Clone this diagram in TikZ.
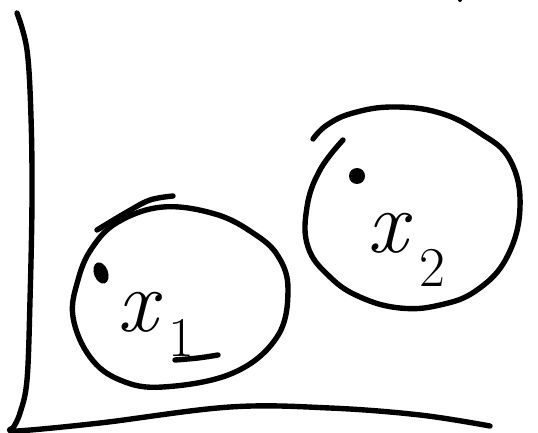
\documentclass[tikz,border=0pt]{standalone}
\usepackage{fontspec}
\usepackage{tikz}
\usetikzlibrary{positioning}

\begin{document}
\begin{tikzpicture}[
    x=0.03cm, y=-0.03cm,
    pen/.style={
        draw=black,
        line width=4.6pt,
        line cap=round,
        line join=round
    },
    blob/.style={fill=black},
    var/.style={inner sep=0pt, font=\fontsize{76}{76}\selectfont\itshape},
    idx/.style={inner sep=0pt, font=\fontsize{48}{48}\selectfont}
]
\useasboundingbox (0,0) rectangle (538,433);

% axes
\draw[pen] plot[smooth, tension=0.6] coordinates
    {(17,13) (27,50) (31,117) (32,200) (30,300) (27,380) (20,413) (13,428)};
\draw[pen] plot[smooth, tension=0.6] coordinates
    {(13,428) (17,431) (100,423) (230,407) (330,408) (420,415) (490,426)};

% first cluster
\draw[pen] plot[smooth cycle, tension=0.65] coordinates
    {(163,207) (215,214) (253,233) (278,256) (288,290) (277,337)
     (233,373) (163,387) (120,380) (90,357) (73,317) (78,280)
     (92,248) (118,222)};
\draw[pen] plot[smooth, tension=0.6] coordinates
    {(97,230) (127,212) (150,200) (173,196)};
\fill[blob, rotate around={20:(101,273)}] (101,273) ellipse [x radius=7, y radius=11];

\node[var] (xa) at (138,312) {x};
\node[idx] (suba) at (181,338) {1};
\draw[pen] plot[smooth, tension=0.6] coordinates
    {(175,360) (198,358) (218,355)};

% second cluster
\draw[pen] plot[smooth, tension=0.7] coordinates
    {(343,140) (320,170) (307,207) (308,247) (330,277) (360,297)
     (400,308) (440,305) (477,290) (507,257) (520,207) (510,160)
     (480,133) (440,113) (393,107) (353,113) (327,125) (313,139)};
\fill[blob] (357,176) circle [radius=8];

\node[var] (xb) at (388,233) {x};
\node[idx] (subb) at (432,268) {2};

% stray mark at the top
\fill[blob] (460,0) circle [radius=2];
\end{tikzpicture}
\end{document}
